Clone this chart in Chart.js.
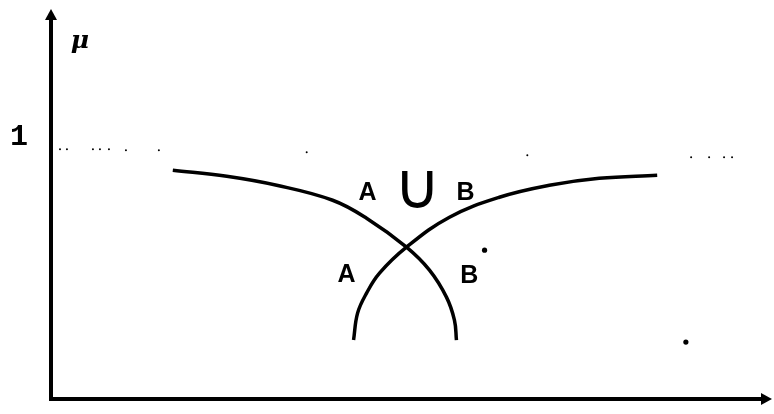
<!DOCTYPE html>
<html><head><meta charset="utf-8">
<script src="https://cdn.jsdelivr.net/npm/chart.js@4/dist/chart.umd.min.js"></script>
<style>html,body{margin:0;padding:0;background:#fff;} #wrap{width:774px;height:414px;position:relative;}</style>
</head><body><div id="wrap"><canvas id="c" width="774" height="414"></canvas></div>
<script>
// Membership curves (x in arbitrary units 0..100, y = membership μ)
const curveAU = [16.94, 24.44, 31.39, 39.17, 43.89, 49.44, 52.64, 55.0, 56.11, 56.39];
const curveAV = [0.916, 0.892, 0.856, 0.796, 0.724, 0.608, 0.516, 0.408, 0.316, 0.236];
const curveBU = [42.08, 42.64, 43.89, 45.69, 49.44, 55.42, 62.36, 69.31, 76.25, 84.31];
const curveBV = [0.236, 0.344, 0.424, 0.504, 0.608, 0.728, 0.808, 0.856, 0.884, 0.896];
// dotted reference level μ = 1 (sparse dots of the scan)
const refDotU = [1.25, 2.22, 5.83, 6.81, 8.06, 10.42, 15.0, 35.56, 66.25, 89.03, 91.53, 93.61, 94.72];
const refDotV = [1.0, 1.0, 1.0, 1.0, 1.0, 0.996, 0.996, 0.988, 0.976, 0.968, 0.968, 0.968, 0.968];
// isolated marks
const markU = [88.3, 60.3];
const markV = [0.228, 0.596];
// curve labels
const labelText = ['A', '\u222A', 'B', 'A', 'B'];
const labelU = [44.03, 50.97, 57.64, 41.11, 58.19];
const labelV = [0.824, 0.832, 0.824, 0.496, 0.492];
// axis texts
const yTickValues = [1];
const yTickLabels = ['1'];
const axisSymbol = '\u03BC';
const axisSymbolU = 4.03, axisSymbolV = 1.432;

const toPts = (us, vs) => us.map((u, i) => ({x: u, y: vs[i]}));

const axesAndText = {
  id: 'axesAndText',
  afterDraw(chart) {
    const ctx = chart.ctx, xs = chart.scales.x, ys = chart.scales.y;
    ctx.save();
    ctx.fillStyle = '#000'; ctx.strokeStyle = '#000';
    const x0 = xs.getPixelForValue(0), y0 = ys.getPixelForValue(0);
    const yTop = ys.getPixelForValue(ys.max), xRight = xs.getPixelForValue(xs.max);
    // axis lines
    ctx.lineWidth = 4; ctx.lineCap = 'square';
    ctx.beginPath(); ctx.moveTo(x0, y0); ctx.lineTo(x0, yTop + 4); ctx.stroke();
    ctx.beginPath(); ctx.moveTo(x0, y0); ctx.lineTo(xRight - 4, y0); ctx.stroke();
    // arrow heads
    ctx.beginPath();
    ctx.moveTo(x0, yTop - 3); ctx.lineTo(x0 - 6, yTop + 8); ctx.lineTo(x0 + 6, yTop + 8); ctx.closePath(); ctx.fill();
    ctx.beginPath();
    ctx.moveTo(xRight + 2, y0); ctx.lineTo(xRight - 9, y0 - 6); ctx.lineTo(xRight - 9, y0 + 6); ctx.closePath(); ctx.fill();
    // tick label "1"
    ctx.textAlign = 'right'; ctx.textBaseline = 'bottom';
    ctx.font = 'bold 30px "Liberation Mono"';
    yTickValues.forEach((v, i) => ctx.fillText(yTickLabels[i], x0 - 23, ys.getPixelForValue(v) + 3));
    // curve labels
    ctx.textAlign = 'center'; ctx.textBaseline = 'middle';
    labelText.forEach((t, i) => {
      ctx.font = t === '\u222A' ? '64px "DejaVu Sans"' : 'bold 25px "Liberation Sans"';
      ctx.fillText(t, xs.getPixelForValue(labelU[i]), ys.getPixelForValue(labelV[i]));
    });
    ctx.font = 'italic bold 25px "DejaVu Serif"';
    ctx.fillText(axisSymbol, xs.getPixelForValue(axisSymbolU), ys.getPixelForValue(axisSymbolV));
    ctx.restore();
  }
};

new Chart(document.getElementById('c'), {
  type: 'scatter',
  data: {
    datasets: [
      {data: toPts(curveAU, curveAV), showLine: true, borderColor: '#000', borderWidth: 3.5, pointRadius: 0, tension: 0.4, fill: false},
      {data: toPts(curveBU, curveBV), showLine: true, borderColor: '#000', borderWidth: 3.5, pointRadius: 0, tension: 0.4, fill: false},
      {data: toPts(refDotU, refDotV), showLine: false, pointRadius: 1, backgroundColor: '#000', borderWidth: 0},
      {data: toPts(markU, markV), showLine: false, pointRadius: 2.6, backgroundColor: '#000', borderWidth: 0}
    ]
  },
  options: {
    responsive: false, animation: false, devicePixelRatio: 1,
    layout: {padding: {left: 51, right: 3, top: 12, bottom: 15}},
    plugins: {legend: {display: false}, tooltip: {enabled: false}},
    scales: {
      x: {type: 'linear', min: 0, max: 100, display: false},
      y: {type: 'linear', min: 0, max: 1.55, display: false}
    }
  },
  plugins: [axesAndText]
});
</script></body></html>
